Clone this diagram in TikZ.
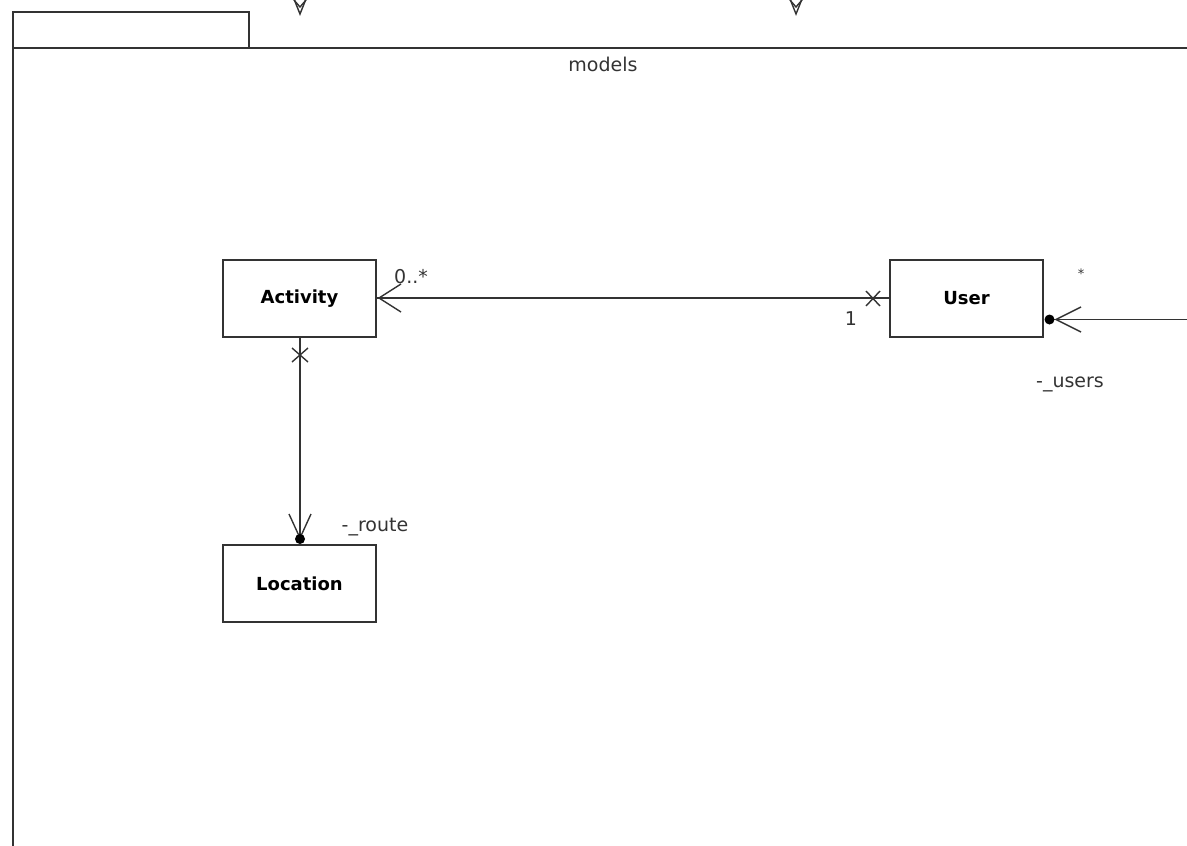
\documentclass[tikz,border=0pt]{standalone}
\usepackage{fontspec}
\setmainfont{DejaVu Sans}
\begin{document}
\begin{tikzpicture}[x=1pt,y=-1pt,
  ln/.style={line width=1.6pt,draw=black!80},
  cls/.style={ln,draw,rectangle,minimum width=153pt,minimum height=77pt,inner sep=0pt,font=\fontsize{18}{21}\selectfont\bfseries},
  lbl/.style={font=\fontsize{19}{22}\selectfont,inner sep=0pt,text=black!80},
  xmark/.style={line width=1.4pt,draw=black!80},
  openarr/.style={line width=1.4pt,draw=black!80}]
\useasboundingbox (0,0) rectangle (1187,846);
\begin{scope}
\clip (0,0) rectangle (1187,846);
% package
\draw[ln] (13,48) rectangle (249,12);
\draw[ln] (13,850) -- (13,48) -- (1190,48);
\node[lbl] (pkg) at (603,64) {models};
% partial generalisation arrowheads at the top
\draw[openarr] (292,-6) -- (300,14) -- (308,-6);
\draw[openarr] (294,0) -- (300,7) -- (306,0);
\draw[openarr] (788,-6) -- (796,14) -- (804,-6);
\draw[openarr] (790,0) -- (796,7) -- (802,0);
% classes
\node[cls] (act) at (299.5,298.5) {Activity};
\node[cls] (usr) at (966.5,298.5) {User};
\node[cls] (loc) at (299.5,583.5) {Location};
% Activity -- User
\draw[ln] ([yshift=0.5pt]act.east) -- ([yshift=0.5pt]usr.west);
\draw[openarr] (401,284) -- (379,298) -- (401,312);
\draw[xmark] (866,291) -- (880,306) (866,306) -- (880,291);
\node[lbl] (m1) at (411,277) {0..*};
\node[lbl] (m2) at (851,319) {1};
% Activity -- Location
\coordinate (locdot) at (300,539);
\draw[ln] (act.south -| locdot) -- (locdot);
\draw[xmark] (292,348) -- (308,362) (292,362) -- (308,348);
\draw[openarr] (289,514) -- (300,538) -- (311,514);
\fill[black] (locdot) circle (5);
\node[lbl] (route) at (375,527) {-\_route};
% incoming to User
\coordinate (usrdot) at (1049.5,319.5);
\coordinate (usrin) at (1190,319.5);
\draw[ln] (usrin) -- (usrdot);
\fill[black] (usrdot) circle (5);
\draw[openarr] (1081,307) -- (1056,319.5) -- (1081,332);
\node[lbl,font=\fontsize{13}{15}\selectfont] (m3) at (1081,274) {*};
\node[lbl] (users) at (1070,384) {-\_users};
\end{scope}
\end{tikzpicture}
\end{document}
